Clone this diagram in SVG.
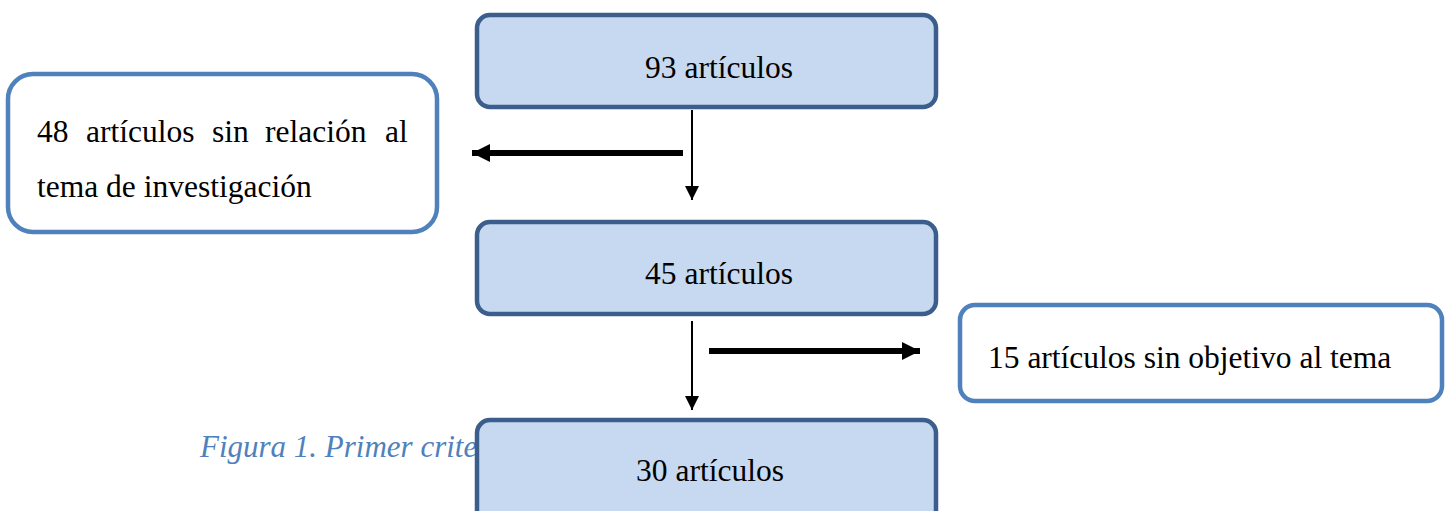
<svg xmlns="http://www.w3.org/2000/svg" width="1451" height="511" viewBox="0 0 1451 511">
<defs>
<style>
.main{fill:#c6d9f0;stroke:#3b5e8c;stroke-width:4.5}
.side{fill:#ffffff;stroke:#4f81bd;stroke-width:4.5}
.t{font-family:"Liberation Serif",serif;font-size:31.5px;fill:#000}
.cap{font-family:"Liberation Serif",serif;font-size:31px;font-style:italic;fill:#4f81bd}
.thin{stroke:#000;stroke-width:2;fill:none}
.thick{stroke:#000;stroke-width:6;fill:none}
</style>
<marker id="ah" viewBox="0 0 10 10" refX="10" refY="5" markerWidth="14" markerHeight="18" markerUnits="userSpaceOnUse" orient="auto"><path d="M0,0 L10,5 L0,10 Z" fill="#000"/></marker>
<marker id="ahb" viewBox="0 0 10 10" refX="10" refY="5" markerWidth="18" markerHeight="22" markerUnits="userSpaceOnUse" orient="auto"><path d="M0,0 L10,5 L0,10 Z" fill="#000"/></marker>
</defs>
<text class="cap" x="200" y="457">Figura 1. Primer criterio</text>
<g id="n1"><rect class="main" x="477" y="15" width="459" height="92" rx="13"/><text class="t" x="719" y="78" text-anchor="middle">93 artículos</text></g>
<g id="n2"><rect class="side" x="8" y="74" width="429" height="158" rx="25"/><text class="t" y="142"><tspan x="37">48</tspan> <tspan x="86">artículos</tspan> <tspan x="212">sin</tspan> <tspan x="265">relación</tspan> <tspan x="385">al</tspan></text><text class="t" x="37" y="197">tema de investigación</text></g>
<g id="n3"><rect class="main" x="477" y="222" width="459" height="92" rx="13"/><text class="t" x="719" y="284" text-anchor="middle">45 artículos</text></g>
<g id="n4"><rect class="side" x="960" y="305" width="482" height="96" rx="15"/><text class="t" x="988" y="368">15 artículos sin objetivo al tema</text></g>
<g id="n5"><rect class="main" x="477" y="420" width="459" height="110" rx="13"/><text class="t" x="710" y="481" text-anchor="middle">30 artículos</text></g>
<g id="connectors">
<line class="thin" x1="692" y1="110" x2="692" y2="200" marker-end="url(#ah)"/>
<line class="thick" x1="683" y1="153" x2="472" y2="153" marker-end="url(#ahb)"/>
<line class="thin" x1="692" y1="321" x2="692" y2="410" marker-end="url(#ah)"/>
<line class="thick" x1="709" y1="351" x2="920" y2="351" marker-end="url(#ahb)"/>
</g>
</svg>
